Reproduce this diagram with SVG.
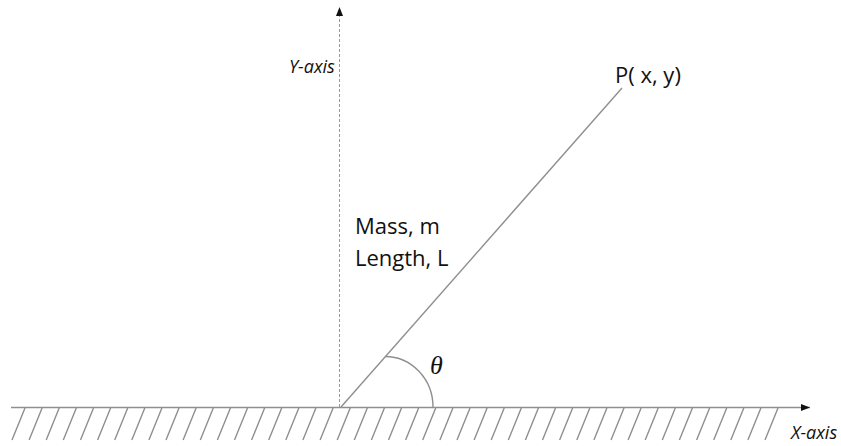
<svg xmlns="http://www.w3.org/2000/svg" width="841" height="446" viewBox="0 0 841 446">
<style>
.lbl{font-family:"Open Sans","Liberation Sans",sans-serif;font-size:22px;fill:#111}
.ax{font-family:"Open Sans","Liberation Sans",sans-serif;font-size:18px;font-style:italic;fill:#111}
.th{font-family:"Liberation Serif","DejaVu Serif",serif;font-size:26px;font-style:italic;fill:#111}
.gray{stroke:#8f8f8f;stroke-width:1.4;fill:none}
</style>
<defs>
<marker id="arr" markerWidth="10" markerHeight="8" refX="9" refY="4" orient="auto" markerUnits="userSpaceOnUse">
<path d="M0,0.5 L9,4 L0,7.5 Z" fill="#111"/>
</marker>
</defs>
<rect width="841" height="446" fill="#fff"/>
<g id="ground">
<path class="gray" d="M25,408 l-13,32 M42.1,408 l-13,32 M59.2,408 l-13,32 M76.3,408 l-13,32 M93.5,408 l-13,32 M110.6,408 l-13,32 M127.7,408 l-13,32 M144.8,408 l-13,32 M161.9,408 l-13,32 M179,408 l-13,32 M196.1,408 l-13,32 M213.3,408 l-13,32 M230.4,408 l-13,32 M247.5,408 l-13,32 M264.6,408 l-13,32 M281.7,408 l-13,32 M298.8,408 l-13,32 M315.9,408 l-13,32 M333.1,408 l-13,32 M350.2,408 l-13,32 M367.3,408 l-13,32 M384.4,408 l-13,32 M401.5,408 l-13,32 M418.6,408 l-13,32 M435.7,408 l-13,32 M452.9,408 l-13,32 M470,408 l-13,32 M487.1,408 l-13,32 M504.2,408 l-13,32 M521.3,408 l-13,32 M538.4,408 l-13,32 M555.5,408 l-13,32 M572.6,408 l-13,32 M589.8,408 l-13,32 M606.9,408 l-13,32 M624,408 l-13,32 M641.1,408 l-13,32 M658.2,408 l-13,32 M675.3,408 l-13,32 M692.4,408 l-13,32 M709.6,408 l-13,32 M726.7,408 l-13,32 M743.8,408 l-13,32 M760.9,408 l-13,32 M778,408 l-13,32" stroke-width="1.2"/>
</g>
<g id="connectors">
<line id="x-axis" x1="11" y1="407.5" x2="810" y2="407.5" class="gray" marker-end="url(#arr)"/>
<line id="y-axis" x1="339.5" y1="407" x2="339.5" y2="7" stroke="#9a9a9a" stroke-width="1" stroke-dasharray="3,2" marker-end="url(#arr)"/>
<line id="rod" x1="341" y1="407" x2="622" y2="88" class="gray"/>
<path id="angle-arc" d="M385,356.5 A48,50.5 0 0 1 433,407" class="gray"/>
</g>
<g id="labels">
<text class="ax" x="289" y="73">Y-axis</text>
<text class="ax" x="791" y="439">X-axis</text>
<text class="lbl" x="615" y="83">P( x, y)</text>
<text class="lbl" x="355" y="234">Mass, m</text>
<text class="lbl" x="355" y="266">Length, L</text>
<text class="th" x="430" y="374">θ</text>
</g>
</svg>
